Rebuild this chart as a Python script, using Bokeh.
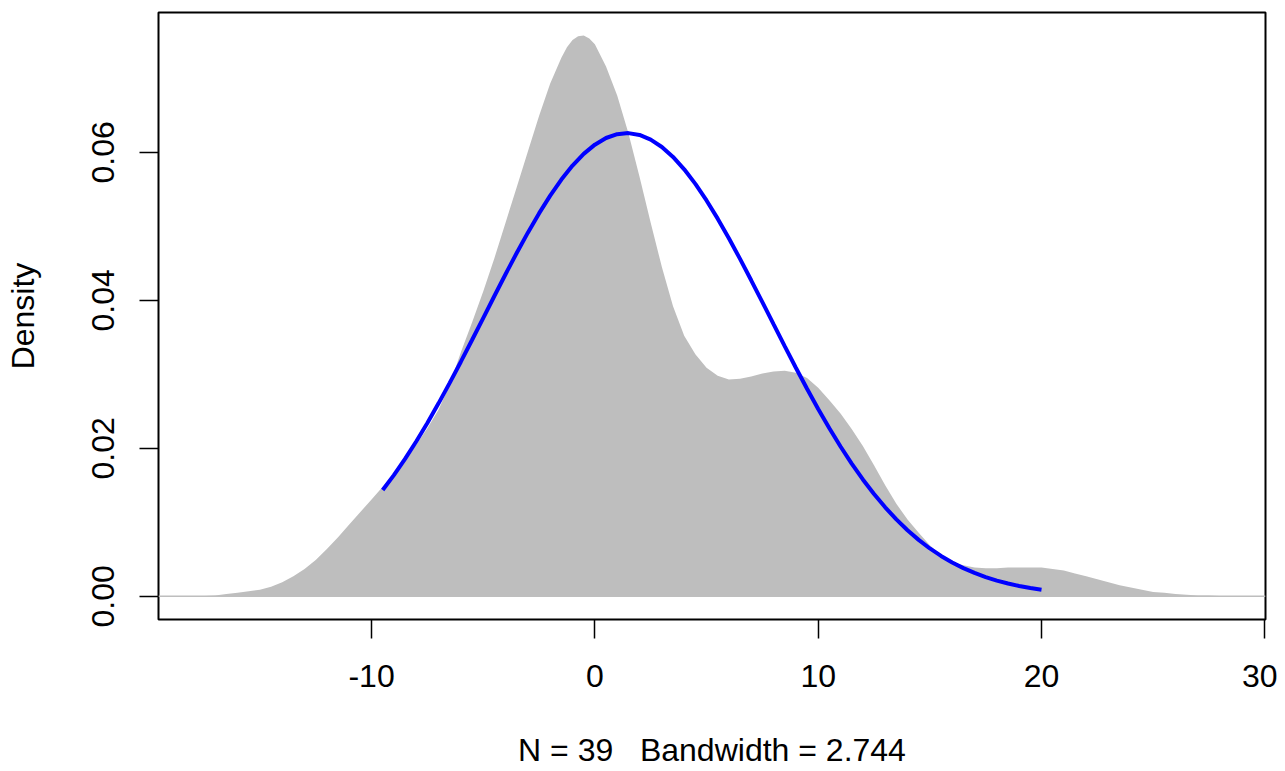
from bokeh.plotting import figure
from bokeh.models import Range1d, FixedTicker, Span
from bokeh.embed import file_html
from bokeh.resources import INLINE

# Kernel density estimate
dens_x = [-17.7, -17.0, -16.5, -16.0, -15.5, -15.0, -14.5, -14.0, -13.5, -13.0,
          -12.5, -12.0, -11.5, -11.0, -10.5, -10.0, -9.5, -9.0, -8.5, -8.0,
          -7.5, -7.0, -6.5, -6.0, -5.5, -5.0, -4.5, -4.0, -3.5, -3.0,
          -2.5, -2.0, -1.5, -1.25, -1.0, -0.75, -0.5, -0.25, 0.0, 0.5, 1.0, 1.5, 2.0,
          2.5, 3.0, 3.5, 4.0, 4.5, 5.0, 5.5, 6.0, 6.5, 7.0,
          7.5, 8.0, 8.5, 9.0, 9.5, 10.0, 10.5, 11.0, 11.5, 12.0,
          12.5, 13.0, 13.5, 14.0, 14.5, 15.0, 15.5, 16.0, 16.5, 17.0,
          17.5, 18.0, 18.5, 19.0, 19.5, 20.0, 20.5, 21.0, 21.5, 22.0,
          22.5, 23.0, 23.5, 24.0, 24.5, 25.0, 25.5, 26.0, 26.5, 27.0,
          27.5, 28.2]
dens_y = [0.0000, 0.0001, 0.0003, 0.0005, 0.0007, 0.0009, 0.0013, 0.0019, 0.0027, 0.0037,
          0.0049, 0.0064, 0.0080, 0.0097, 0.0114, 0.0131, 0.0148, 0.0166, 0.0185, 0.0205,
          0.0227, 0.0252, 0.0286, 0.0330, 0.0370, 0.0412, 0.0457, 0.0505, 0.0553, 0.0601,
          0.0649, 0.0693, 0.0728, 0.0742, 0.0752, 0.0757, 0.0758, 0.0754, 0.0746, 0.0716, 0.0677, 0.0626, 0.0567,
          0.0505, 0.0445, 0.0392, 0.0352, 0.0327, 0.0309, 0.0298, 0.0293, 0.0294, 0.0297,
          0.0301, 0.0304, 0.0305, 0.0302, 0.0295, 0.0282, 0.0265, 0.0247, 0.0226, 0.0203,
          0.0177, 0.0150, 0.0125, 0.0104, 0.0086, 0.0069, 0.0055, 0.0046, 0.0042, 0.0039,
          0.0038, 0.0038, 0.0039, 0.0039, 0.0039, 0.0039, 0.0037, 0.0035, 0.0031, 0.0027,
          0.0023, 0.0019, 0.0015, 0.0012, 0.0009, 0.0006, 0.0005, 0.0003, 0.0002, 0.0001,
          0.0001, 0.0000]

# Fitted normal curve
norm_x = [-9.5, -9.0, -8.5, -8.0, -7.5, -7.0, -6.5, -6.0, -5.5, -5.0,
          -4.5, -4.0, -3.5, -3.0, -2.5, -2.0, -1.5, -1.0, -0.5, 0.0,
          0.5, 1.0, 1.5, 2.0, 2.5, 3.0, 3.5, 4.0, 4.5, 5.0,
          5.5, 6.0, 6.5, 7.0, 7.5, 8.0, 8.5, 9.0, 9.5, 10.0,
          10.5, 11.0, 11.5, 12.0, 12.5, 13.0, 13.5, 14.0, 14.5, 15.0,
          15.5, 16.0, 16.5, 17.0, 17.5, 18.0, 18.5, 19.0, 19.5, 20.0]
norm_y = [0.01437, 0.01638, 0.01857, 0.02093, 0.02343, 0.02608, 0.02885, 0.03171, 0.03464, 0.03761,
          0.04059, 0.04353, 0.04640, 0.04915, 0.05175, 0.05415, 0.05632, 0.05821, 0.05979, 0.06104,
          0.06194, 0.06246, 0.06260, 0.06235, 0.06172, 0.06073, 0.05938, 0.05771, 0.05574, 0.05350,
          0.05104, 0.04840, 0.04560, 0.04271, 0.03976, 0.03678, 0.03381, 0.03089, 0.02806, 0.02532,
          0.02272, 0.02025, 0.01794, 0.01580, 0.01383, 0.01203, 0.01040, 0.00893, 0.00763, 0.00647,
          0.00546, 0.00458, 0.00381, 0.00316, 0.00260, 0.00212, 0.00173, 0.00140, 0.00112, 0.00089]

x_ticks = [-10, 0, 10, 20, 30]
x_tick_labels = ["-10", "0", "10", "20", "30"]
y_ticks = [0.0, 0.02, 0.04, 0.06]
y_tick_labels = ["0.00", "0.02", "0.04", "0.06"]

x_title = "N = 39 \u00a0 Bandwidth = 2.744"
y_title = "Density"

FONT = "Liberation Sans"

p = figure(width=1277, height=770,
           x_range=Range1d(-19.54, 30.03), y_range=Range1d(-0.00313, 0.0789),
           output_backend="svg", toolbar_location=None,
           min_border_left=158, min_border_right=12,
           min_border_top=12, min_border_bottom=151)

p.xgrid.visible = False
p.ygrid.visible = False
p.background_fill_color = "white"
p.border_fill_color = "white"
p.outline_line_color = "black"
p.outline_line_width = 2

p.varea(x=dens_x, y1=[0.0] * len(dens_x), y2=dens_y, fill_color="#BEBEBE")
p.add_layout(Span(location=0, dimension="width", line_color="#BEBEBE", line_width=1.5))
p.line(norm_x, norm_y, line_color="#0000FF", line_width=4)

for ax in (p.xaxis[0], p.yaxis[0]):
    ax.axis_line_color = None
    ax.major_tick_out = 19
    ax.major_tick_in = 0
    ax.major_tick_line_width = 1.5
    ax.major_tick_line_color = "black"
    ax.minor_tick_line_color = None
    ax.major_label_text_font = FONT
    ax.major_label_text_font_size = "32px"
    ax.major_label_text_color = "black"
    ax.axis_label_text_font = FONT
    ax.axis_label_text_font_size = "32px"
    ax.axis_label_text_font_style = "normal"
    ax.axis_label_text_color = "black"

p.xaxis.ticker = FixedTicker(ticks=x_ticks)
p.xaxis.major_label_overrides = dict(zip(x_ticks, x_tick_labels))
p.xaxis.major_label_standoff = 26
p.xaxis.axis_label = x_title
p.xaxis.axis_label_standoff = 42

p.yaxis.ticker = FixedTicker(ticks=y_ticks)
p.yaxis.major_label_overrides = dict(zip(y_ticks, y_tick_labels))
p.yaxis.major_label_orientation = "vertical"
p.yaxis.major_label_standoff = 25
p.yaxis.axis_label = y_title
p.yaxis.axis_label_standoff = 49

open("out.html", "w").write(file_html(p, INLINE))
